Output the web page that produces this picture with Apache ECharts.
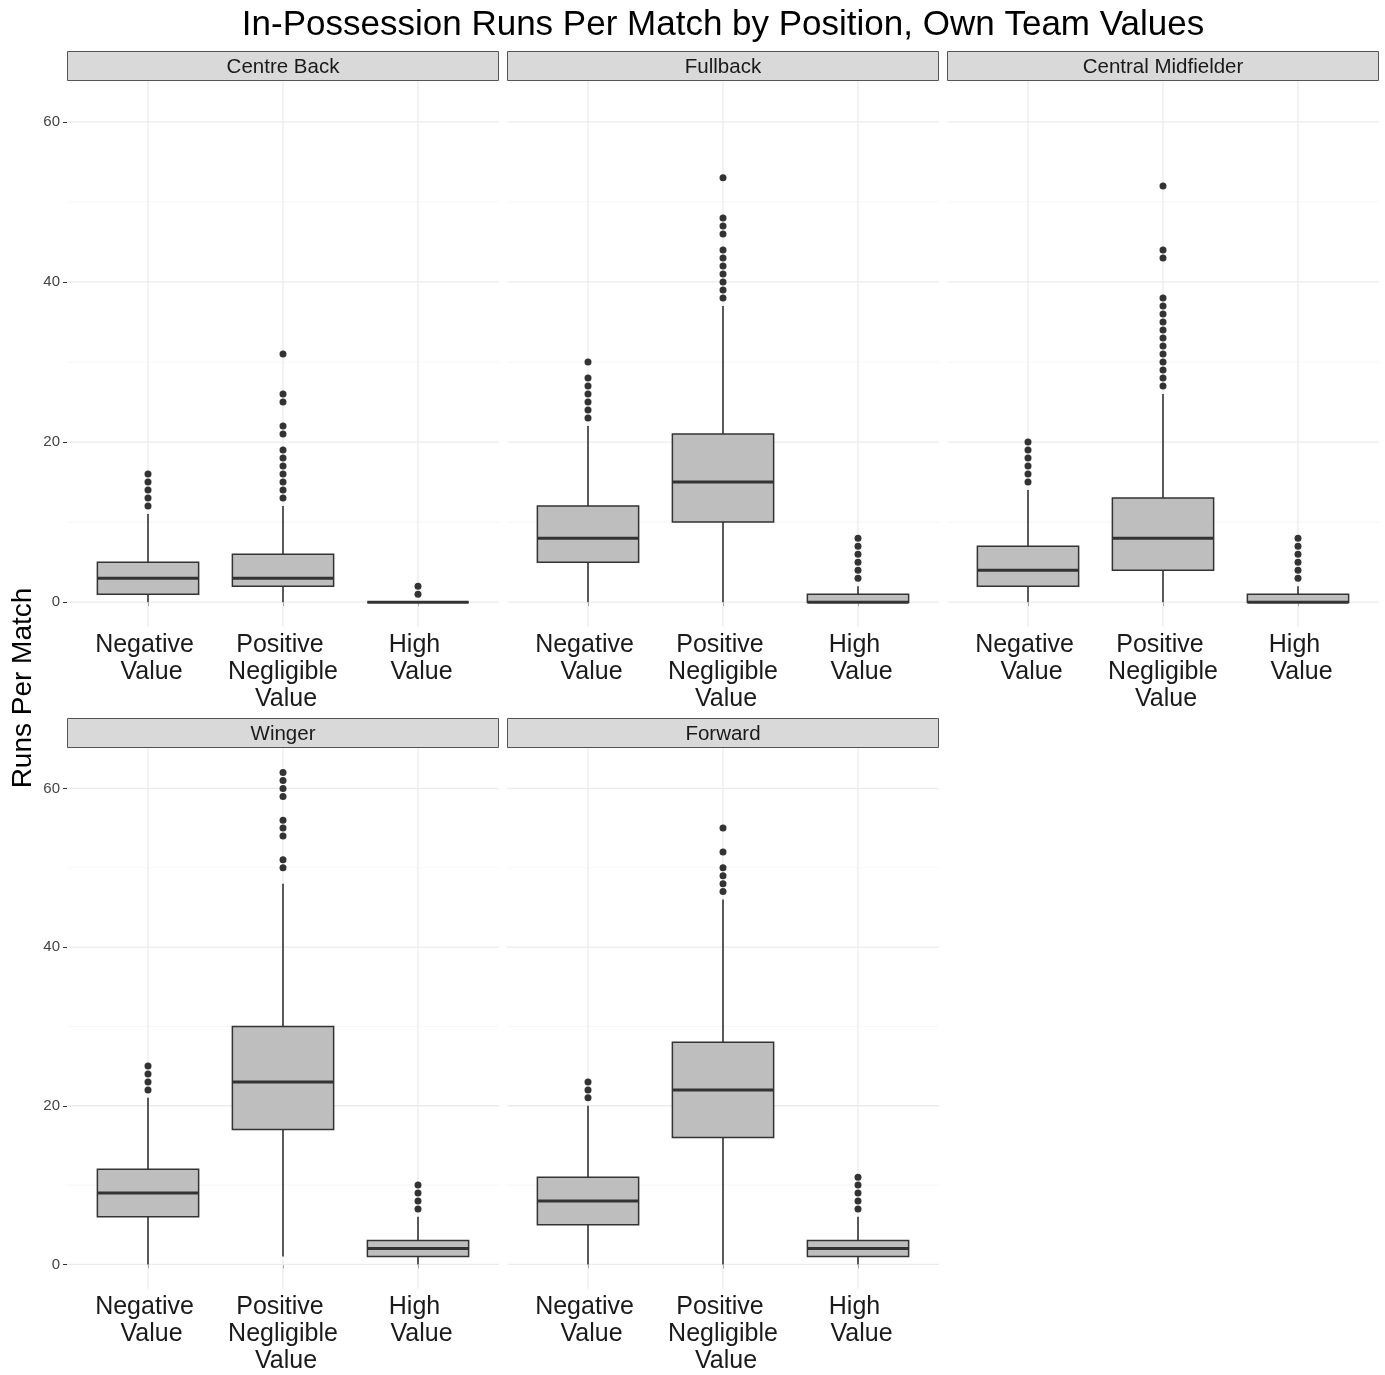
<!DOCTYPE html>
<html>
<head>
<meta charset="utf-8">
<title>In-Possession Runs Per Match by Position</title>
<script src="https://cdn.jsdelivr.net/npm/echarts@6/dist/echarts.min.js"></script>
<style>
  html, body { margin: 0; padding: 0; background: #ffffff; }
  #chart { width: 1385px; height: 1375px; }
</style>
</head>
<body>
<div id="chart"></div>
<script>
// Facet panels, in reading order
const positions = ['Centre Back', 'Fullback', 'Central Midfielder', 'Winger', 'Forward'];
const valueGroups = ['Negative\nValue', 'Positive\nNegligible\nValue', 'High\nValue'];
const yTicks = [0, 20, 40, 60];
const yMinorTicks = [10, 30, 50];

// Box summaries per value group: [lower whisker, Q1, median, Q3, upper whisker]
const centreBackStats = [[0, 1, 3, 5, 11], [0, 2, 3, 6, 12], [0, 0, 0, 0, 0]];
const fullbackStats   = [[0, 5, 8, 12, 22], [0, 10, 15, 21, 37], [0, 0, 0, 1, 2]];
const midfielderStats = [[0, 2, 4, 7, 14], [0, 4, 8, 13, 26], [0, 0, 0, 1, 2]];
const wingerStats     = [[0, 6, 9, 12, 21], [1, 17, 23, 30, 48], [0, 1, 2, 3, 6]];
const forwardStats    = [[0, 5, 8, 11, 20], [0, 16, 22, 28, 46], [0, 1, 2, 3, 6]];

// Outlying matches per value group
const centreBackOutliers = [[12, 13, 14, 15, 16], [13, 14, 15, 16, 17, 18, 19, 21, 22, 25, 26, 31], [1, 2]];
const fullbackOutliers   = [[23, 24, 25, 26, 27, 28, 30], [38, 39, 40, 41, 42, 43, 44, 46, 47, 48, 53], [3, 4, 5, 6, 7, 8]];
const midfielderOutliers = [[15, 16, 17, 18, 19, 20], [27, 28, 29, 30, 31, 32, 33, 34, 35, 36, 37, 38, 43, 44, 52], [3, 4, 5, 6, 7, 8]];
const wingerOutliers     = [[22, 23, 24, 25], [50, 51, 54, 55, 56, 59, 60, 61, 62], [7, 8, 9, 10]];
const forwardOutliers    = [[21, 22, 23], [47, 48, 49, 50, 52, 55], [7, 8, 9, 10, 11]];

const boxStats = [centreBackStats, fullbackStats, midfielderStats, wingerStats, forwardStats];
const outliers = [centreBackOutliers, fullbackOutliers, midfielderOutliers, wingerOutliers, forwardOutliers];

// Layout
const FONT = '"Liberation Sans", Arial, Helvetica, sans-serif';
const Y_MIN = -3.1, Y_MAX = 65.1;
const X_MIN = 0.4, X_MAX = 3.6;
const PANEL_W = 432, PANEL_H = 546, STRIP_H = 30;
const panelLeft = [67, 507, 947, 67, 507];
const panelTop = [81, 81, 81, 748, 748];
const leftColumn = [true, false, false, true, false];
const catPositions = valueGroups.map((_, k) => k + 1);

const chart = echarts.init(document.getElementById('chart'), null, { renderer: 'canvas' });

function renderGridLine(params, api) {
  const dir = api.value(2);
  const major = api.value(3);
  let p1, p2;
  if (dir === 0) {
    const v = api.value(1);
    p1 = api.coord([X_MIN, v]);
    p2 = api.coord([X_MAX, v]);
  } else {
    const v = api.value(0);
    p1 = api.coord([v, Y_MIN]);
    p2 = api.coord([v, Y_MAX]);
  }
  return {
    type: 'line',
    shape: { x1: p1[0], y1: p1[1], x2: p2[0], y2: p2[1] },
    style: { stroke: major ? '#ebebeb' : '#f4f4f4', lineWidth: major ? 1.3 : 0.8 },
    silent: true
  };
}

function renderBox(params, api) {
  const x = api.value(0);
  const pLo = api.coord([x, api.value(1)]);
  const pQ1 = api.coord([x, api.value(2)]);
  const pMed = api.coord([x, api.value(3)]);
  const pQ3 = api.coord([x, api.value(4)]);
  const pHi = api.coord([x, api.value(5)]);
  const halfW = api.size([0.75, 0])[0] / 2;
  const cx = pMed[0];
  const edge = { stroke: '#333333', lineWidth: 1.6 };
  return {
    type: 'group',
    children: [
      { type: 'line', shape: { x1: cx, y1: pLo[1], x2: cx, y2: pQ1[1] }, style: edge },
      { type: 'line', shape: { x1: cx, y1: pQ3[1], x2: cx, y2: pHi[1] }, style: edge },
      {
        type: 'rect',
        shape: { x: cx - halfW, y: pQ3[1], width: 2 * halfW, height: pQ1[1] - pQ3[1] },
        style: { fill: '#bebebe', stroke: '#333333', lineWidth: 1.5 }
      },
      { type: 'line', shape: { x1: cx - halfW, y1: pMed[1], x2: cx + halfW, y2: pMed[1] }, style: { stroke: '#333333', lineWidth: 3 } }
    ]
  };
}

// Category labels: each line steps slightly to the right of the one above
const labelLine = { fontFamily: FONT, fontSize: 25, lineHeight: 27, color: '#1a1a1a' };
const labelRich = {
  first2: Object.assign({ padding: [0, 7, 0, 0] }, labelLine),
  last2: Object.assign({ padding: [0, 0, 0, 7] }, labelLine),
  first3: Object.assign({ padding: [0, 6, 0, 0] }, labelLine),
  mid3: Object.assign({}, labelLine),
  last3: Object.assign({ padding: [0, 0, 0, 6] }, labelLine)
};
function categoryLabel(v) {
  const lines = valueGroups[Math.round(v) - 1].split('\n');
  const n = lines.length;
  return lines.map((t, j) => {
    const role = j === 0 ? 'first' : (j === n - 1 ? 'last' : 'mid');
    return '{' + role + n + '|' + t + '}';
  }).join('\n');
}

const grids = [], xAxes = [], yAxes = [], series = [], graphics = [];

// Gridline definitions shared by every panel: [x, y, direction, major]
const gridLineData = []
  .concat(yTicks.map(v => [2, v, 0, 1]))
  .concat(yMinorTicks.map(v => [2, v, 0, 0]))
  .concat(catPositions.map(v => [v, 30, 1, 1]));

positions.forEach((name, i) => {
  grids.push({ left: panelLeft[i], top: panelTop[i], width: PANEL_W, height: PANEL_H, containLabel: false });

  xAxes.push({
    type: 'value', gridIndex: i, min: X_MIN, max: X_MAX,
    axisLine: { show: false },
    splitLine: { show: false },
    axisTick: { show: true, customValues: catPositions, length: 4, lineStyle: { color: '#333333', width: 1 } },
    axisLabel: {
      customValues: catPositions,
      formatter: categoryLabel,
      fontFamily: FONT, fontSize: 25, lineHeight: 27, color: '#1a1a1a', margin: 5, align: 'center',
      rich: labelRich
    }
  });

  yAxes.push({
    type: 'value', gridIndex: i, min: Y_MIN, max: Y_MAX,
    axisLine: { show: false },
    splitLine: { show: false },
    axisTick: { show: leftColumn[i], customValues: yTicks, length: 4, lineStyle: { color: '#333333', width: 1 } },
    axisLabel: { show: leftColumn[i], customValues: yTicks, fontFamily: FONT, fontSize: 15, color: '#444444', margin: 7 }
  });

  series.push({
    type: 'custom', xAxisIndex: i, yAxisIndex: i, z: 1, silent: true,
    renderItem: renderGridLine,
    encode: { x: 0, y: 1 },
    data: gridLineData
  });

  series.push({
    type: 'custom', name: name, xAxisIndex: i, yAxisIndex: i, z: 2,
    renderItem: renderBox,
    encode: { x: 0, y: [1, 2, 3, 4, 5] },
    data: boxStats[i].map((s, k) => [k + 1].concat(s))
  });

  series.push({
    type: 'scatter', xAxisIndex: i, yAxisIndex: i, z: 3,
    symbol: 'circle', symbolSize: 7,
    itemStyle: { color: '#333333', opacity: 1 },
    data: outliers[i].reduce((acc, vals, k) => acc.concat(vals.map(v => [k + 1, v])), [])
  });

  // Facet strip
  graphics.push({
    type: 'rect',
    shape: { x: panelLeft[i] + 0.5, y: panelTop[i] - STRIP_H + 0.5, width: PANEL_W - 1, height: STRIP_H - 1 },
    style: { fill: '#d9d9d9', stroke: '#555555', lineWidth: 1 }
  });
  graphics.push({
    type: 'text',
    x: panelLeft[i] + PANEL_W / 2, y: panelTop[i] - STRIP_H / 2 + 1,
    style: { text: name, fill: '#1a1a1a', font: '20.5px ' + FONT, textAlign: 'center', textVerticalAlign: 'middle' }
  });
});

// Plot title and shared y-axis title
graphics.push({
  type: 'text', x: 723, y: 25,
  style: { text: 'In-Possession Runs Per Match by Position, Own Team Values', fill: '#000000', font: '35px ' + FONT, textAlign: 'center', textVerticalAlign: 'middle' }
});
graphics.push({
  type: 'text', x: 23, y: 688, rotation: Math.PI / 2,
  style: { text: 'Runs Per Match', fill: '#000000', font: '28px ' + FONT, textAlign: 'center', textVerticalAlign: 'middle' }
});

chart.setOption({
  animation: false,
  backgroundColor: '#ffffff',
  grid: grids,
  xAxis: xAxes,
  yAxis: yAxes,
  series: series,
  graphic: graphics
});
</script>
</body>
</html>
